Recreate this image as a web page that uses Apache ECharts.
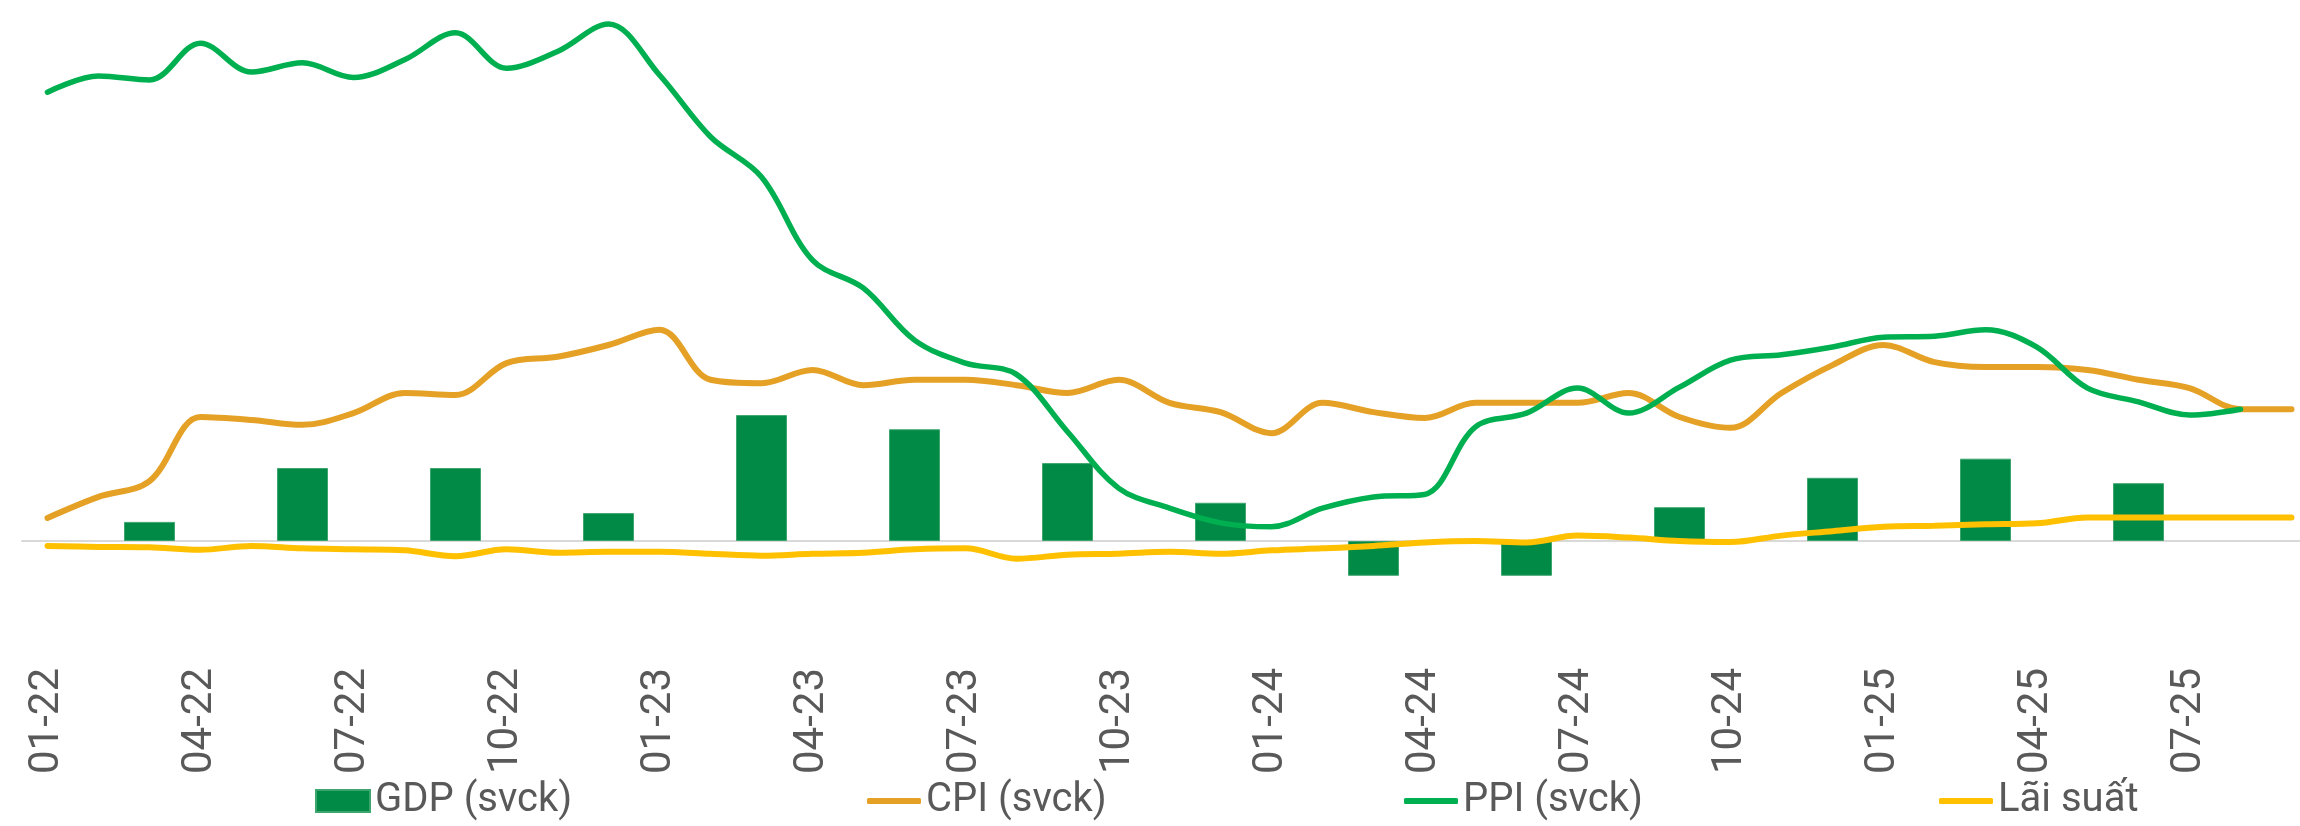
<!DOCTYPE html>
<html>
<head>
<meta charset="utf-8">
<script src="https://cdn.jsdelivr.net/npm/echarts@6/dist/echarts.min.js"></script>
<style>
  html, body { margin: 0; padding: 0; background: #fff; }
  #chart { width: 2300px; height: 826px; }
</style>
</head>
<body>
<div id="chart"></div>
<script>
// thang-nam (monthly categories)
const months = [
  '01-22', '02-22', '03-22', '04-22', '05-22', '06-22', '07-22', '08-22', '09-22', '10-22', '11-22', '12-22',
  '01-23', '02-23', '03-23', '04-23', '05-23', '06-23', '07-23', '08-23', '09-23', '10-23', '11-23', '12-23',
  '01-24', '02-24', '03-24', '04-24', '05-24', '06-24', '07-24', '08-24', '09-24', '10-24', '11-24', '12-24',
  '01-25', '02-25', '03-25', '04-25', '05-25', '06-25', '07-25', '08-25', '09-25'
]

// GDP quarterly, placed on the last month of each quarter
const gdpQuarters = [0.39, 1.49, 1.49, 0.57, 2.57, 2.28, 1.59, 0.78, -0.71, -0.71, 0.69, 1.29, 1.68, 1.18]

const cpi = [0.47, 0.90, 1.22, 2.53, 2.47, 2.37, 2.61, 3.02, 2.98, 3.63, 3.76, 4.00,
  4.31, 3.29, 3.22, 3.49, 3.18, 3.29, 3.29, 3.18, 3.02, 3.29, 2.82, 2.63,
  2.20, 2.82, 2.63, 2.51, 2.82, 2.82, 2.82, 3.02, 2.53, 2.31, 3.02, 3.59,
  4.00, 3.65, 3.55, 3.55, 3.49, 3.29, 3.12, 2.69, 2.69]

const ppi = [9.16, 9.49, 9.41, 10.16, 9.57, 9.76, 9.46, 9.82, 10.37, 9.65, 9.99, 10.55,
  9.51, 8.25, 7.43, 5.73, 5.16, 4.10, 3.63, 3.40, 2.23, 1.08, 0.67, 0.37,
  0.29, 0.67, 0.90, 0.95, 2.33, 2.61, 3.12, 2.61, 3.14, 3.69, 3.80, 3.96,
  4.16, 4.18, 4.31, 3.96, 3.12, 2.84, 2.57, 2.69]

const rate = [-0.10, -0.12, -0.13, -0.18, -0.10, -0.15, -0.17, -0.19, -0.31, -0.17, -0.24, -0.22,
  -0.22, -0.26, -0.30, -0.26, -0.24, -0.17, -0.15, -0.36, -0.28, -0.26, -0.22, -0.26,
  -0.19, -0.15, -0.10, -0.03, 0.00, -0.03, 0.11, 0.07, 0.00, -0.02, 0.11, 0.20,
  0.29, 0.31, 0.34, 0.36, 0.48, 0.48, 0.48, 0.48, 0.48]

const gdp = months.map(() => null)
gdpQuarters.forEach((v, q) => { gdp[q * 3 + 2] = v })

const chart = echarts.init(document.getElementById('chart'))

const legendBase = {
  top: 781,
  itemWidth: 54,
  padding: 0,
  textStyle: { fontSize: 40, color: '#595959', fontFamily: 'Roboto' }
}

const lineBase = {
  type: 'line',
  smooth: 0.35,
  symbol: 'none',
  showSymbol: false
}

const option = {
  animation: false,
  backgroundColor: '#ffffff',
  legend: [
    Object.assign({ left: 315, itemHeight: 22, icon: 'rect', data: ['GDP (svck)'] }, legendBase),
    Object.assign({ left: 867, itemHeight: 6, icon: 'roundRect', data: ['CPI (svck)'] }, legendBase),
    Object.assign({ left: 1404, itemHeight: 6, icon: 'roundRect', data: ['PPI (svck)'] }, legendBase),
    Object.assign({ left: 1939, itemHeight: 6, icon: 'roundRect', data: ['Lãi suất'] }, legendBase)
  ],
  grid: {
    left: 22,
    top: 2,
    width: 2295,
    height: 637,
    containLabel: false,
    outerBoundsMode: 'none'
  },
  xAxis: [
    {
      // zero line with ticks
      type: 'category',
      data: months,
      boundaryGap: true,
      axisLine: {
        onZero: true,
        lineStyle: { color: '#D9D9D9', width: 2 }
      },
      axisTick: {
        interval: 2,
        length: 14,
        lineStyle: { color: '#D9D9D9', width: 2 }
      },
      axisLabel: { show: false }
    },
    {
      // labels at the bottom of the plot
      type: 'category',
      data: months,
      boundaryGap: true,
      position: 'bottom',
      axisLine: { show: false, onZero: false },
      axisTick: { show: false },
      axisLabel: {
        interval: 2,
        rotate: 90,
        margin: 29,
        fontSize: 42,
        fontFamily: 'Roboto',
        color: '#595959'
      }
    }
  ],
  yAxis: {
    type: 'value',
    min: -2,
    max: 11,
    interval: 1,
    show: false
  },
  series: [
    {
      name: 'GDP (svck)',
      type: 'bar',
      data: gdp,
      barWidth: '100%',
      itemStyle: { color: '#008A45', borderColor: '#3FA56F', borderWidth: 1 }
    },
    Object.assign({
      name: 'CPI (svck)',
      data: cpi,
      itemStyle: { color: '#E5A126' },
      lineStyle: { color: '#E5A126', width: 6, cap: 'round' }
    }, lineBase),
    Object.assign({
      name: 'PPI (svck)',
      data: ppi,
      itemStyle: { color: '#00B050' },
      lineStyle: { color: '#00B050', width: 5.5, cap: 'round' }
    }, lineBase),
    Object.assign({
      name: 'Lãi suất',
      data: rate,
      itemStyle: { color: '#FFC000' },
      lineStyle: { color: '#FFC000', width: 6, cap: 'round' }
    }, lineBase)
  ]
}

chart.setOption(option)
</script>
</body>
</html>
